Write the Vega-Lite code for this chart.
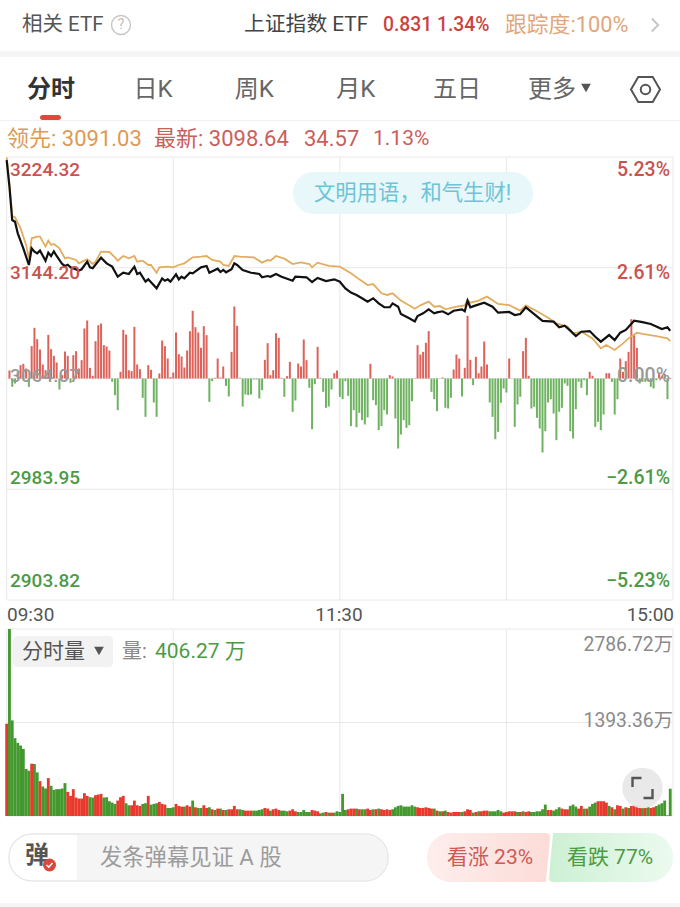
{
"$schema":"https://vega.github.io/schema/vega-lite/v6.json",
"width":680,"height":907,"padding":0,
"autosize":{"type":"fit","contains":"padding"},
"background":"#ffffff",
"config":{"view":{"stroke":null},"axis":{"disable":true},"font":"Roboto, Noto Sans CJK SC"},
"resolve":{"scale":{"x":"independent","y":"independent","color":"independent"}},
"layer":[
{"data":{"values":[{"n":"band"}]},"mark":{"type":"rect","color":"#f5f5f5"},"encoding":{"x":{"datum":0,"scale":{"domain":[0,680]}},"x2":{"datum":680},"y":{"datum":51,"scale":{"domain":[907,0]}},"y2":{"datum":57}}},
{"data":{"values":[{"n":"band"}]},"mark":{"type":"rect","color":"#f1f1f1"},"encoding":{"x":{"datum":0,"scale":{"domain":[0,680]}},"x2":{"datum":680},"y":{"datum":120,"scale":{"domain":[907,0]}},"y2":{"datum":121}}},
{"data":{"values":[{"n":"band"}]},"mark":{"type":"rect","color":"#f5f5f5"},"encoding":{"x":{"datum":0,"scale":{"domain":[0,680]}},"x2":{"datum":680},"y":{"datum":903,"scale":{"domain":[907,0]}},"y2":{"datum":907}}},
{"data":{"values":[{"s":"相关 ETF"}]},"mark":{"type":"text","fontSize":20.5,"align":"left","baseline":"middle","color":"#555555"},"encoding":{"x":{"datum":22,"scale":{"domain":[0,680]}},"y":{"datum":25,"scale":{"domain":[907,0]}},"text":{"field":"s"}}},
{"data":{"values":[{"n":"help"}]},"mark":{"type":"point","shape":"circle","filled":false,"color":"#c8c8c8","strokeWidth":1.5,"size":361,"opacity":1},"encoding":{"x":{"datum":121,"scale":{"domain":[0,680]}},"y":{"datum":25,"scale":{"domain":[907,0]}}}},
{"data":{"values":[{"s":"?"}]},"mark":{"type":"text","fontSize":14,"align":"center","baseline":"middle","color":"#c0c0c0"},"encoding":{"x":{"datum":121,"scale":{"domain":[0,680]}},"y":{"datum":25,"scale":{"domain":[907,0]}},"text":{"field":"s"}}},
{"data":{"values":[{"s":"上证指数 ETF"}]},"mark":{"type":"text","fontSize":20.8,"align":"left","baseline":"middle","color":"#444444"},"encoding":{"x":{"datum":244,"scale":{"domain":[0,680]}},"y":{"datum":25,"scale":{"domain":[907,0]}},"text":{"field":"s"}}},
{"data":{"values":[{"s":"0.831 1.34%"}]},"mark":{"type":"text","fontSize":19.3,"fontWeight":500,"align":"left","baseline":"middle","color":"#c9443f"},"encoding":{"x":{"datum":383,"scale":{"domain":[0,680]}},"y":{"datum":25,"scale":{"domain":[907,0]}},"text":{"field":"s"}}},
{"data":{"values":[{"s":"跟踪度:100%"}]},"mark":{"type":"text","fontSize":21.8,"align":"left","baseline":"middle","color":"#e2a67c"},"encoding":{"x":{"datum":505,"scale":{"domain":[0,680]}},"y":{"datum":25,"scale":{"domain":[907,0]}},"text":{"field":"s"}}},
{"data":{"values":[{"n":"more"}]},"mark":{"type":"point","shape":"M-0.5,-1L0.5,0L-0.5,1","filled":false,"color":"#c4c4c4","strokeWidth":1.8,"size":169,"opacity":1},"encoding":{"x":{"datum":655,"scale":{"domain":[0,680]}},"y":{"datum":25,"scale":{"domain":[907,0]}}}},
{"data":{"values":[{"s":"分时"}]},"mark":{"type":"text","fontSize":24,"fontWeight":"bold","align":"center","baseline":"middle","color":"#333333"},"encoding":{"x":{"datum":51,"scale":{"domain":[0,680]}},"y":{"datum":90,"scale":{"domain":[907,0]}},"text":{"field":"s"}}},
{"data":{"values":[{"s":"日K"},{"s":"周K"},{"s":"月K"},{"s":"五日"}]},"mark":{"type":"text","fontSize":24,"align":"center","baseline":"middle","color":"#666666"},"encoding":{"x":{"field":"s","type":"nominal","sort":null,"scale":{"domain":["日K","周K","月K","五日"],"range":[153,457],"padding":0}},"y":{"datum":90,"scale":{"domain":[907,0]}},"text":{"field":"s"}}},
{"data":{"values":[{"s":"更多"}]},"mark":{"type":"text","fontSize":24,"align":"center","baseline":"middle","color":"#666666"},"encoding":{"x":{"datum":552,"scale":{"domain":[0,680]}},"y":{"datum":90,"scale":{"domain":[907,0]}},"text":{"field":"s"}}},
{"data":{"values":[{"n":"more"}]},"mark":{"type":"point","shape":"triangle-down","filled":true,"color":"#555555","size":95,"opacity":1},"encoding":{"x":{"datum":586,"scale":{"domain":[0,680]}},"y":{"datum":88,"scale":{"domain":[907,0]}}}},
{"data":{"values":[{"n":"settings"}]},"mark":{"type":"point","shape":"M-1,0L-0.5,-0.866L0.5,-0.866L1,0L0.5,0.866L-0.5,0.866Z","filled":false,"color":"#555555","strokeWidth":2,"size":841,"opacity":1},"encoding":{"x":{"datum":645.5,"scale":{"domain":[0,680]}},"y":{"datum":89.5,"scale":{"domain":[907,0]}}}},
{"data":{"values":[{"n":"settings"}]},"mark":{"type":"point","shape":"circle","filled":false,"color":"#555555","strokeWidth":2,"size":90,"opacity":1},"encoding":{"x":{"datum":645.5,"scale":{"domain":[0,680]}},"y":{"datum":89.5,"scale":{"domain":[907,0]}}}},
{"data":{"values":[{"n":"tab"}]},"mark":{"type":"rect","color":"#e0483c","cornerRadius":2.5},"encoding":{"x":{"datum":40,"scale":{"domain":[0,680]}},"x2":{"datum":61},"y":{"datum":115,"scale":{"domain":[907,0]}},"y2":{"datum":120}}},
{"data":{"values":[{"s":"领先: 3091.03"}]},"mark":{"type":"text","fontSize":22,"align":"left","baseline":"middle","color":"#dc9a55"},"encoding":{"x":{"datum":7,"scale":{"domain":[0,680]}},"y":{"datum":139,"scale":{"domain":[907,0]}},"text":{"field":"s"}}},
{"data":{"values":[{"s":"最新: 3098.64"}]},"mark":{"type":"text","fontSize":22,"align":"left","baseline":"middle","color":"#c9605c"},"encoding":{"x":{"datum":154,"scale":{"domain":[0,680]}},"y":{"datum":139,"scale":{"domain":[907,0]}},"text":{"field":"s"}}},
{"data":{"values":[{"s":"34.57"}]},"mark":{"type":"text","fontSize":22,"align":"left","baseline":"middle","color":"#c9605c"},"encoding":{"x":{"datum":304,"scale":{"domain":[0,680]}},"y":{"datum":139,"scale":{"domain":[907,0]}},"text":{"field":"s"}}},
{"data":{"values":[{"s":"1.13%"}]},"mark":{"type":"text","fontSize":21,"align":"left","baseline":"middle","color":"#c9605c"},"encoding":{"x":{"datum":373,"scale":{"domain":[0,680]}},"y":{"datum":139,"scale":{"domain":[907,0]}},"text":{"field":"s"}}},
{"data":{"values":[{"t":0},{"t":60},{"t":120},{"t":180},{"t":240}]},"mark":{"type":"rule","color":"#e8e8e8","strokeWidth":1},"encoding":{"x":{"field":"t","type":"quantitative","scale":{"domain":[0,240],"range":[6.67,673]}},"y":{"datum":157,"scale":{"domain":[907,0]}},"y2":{"datum":600}}},
{"data":{"values":[{"p":3224.32},{"p":3144.2},{"p":3064.07},{"p":2983.95},{"p":2903.82}]},"mark":{"type":"rule","color":"#e8e8e8","strokeWidth":1},"encoding":{"y":{"field":"p","type":"quantitative","scale":{"domain":[2903.82,3224.32],"range":[600,157]}},"x":{"datum":7,"scale":{"domain":[0,680]}},"x2":{"datum":673}}},
{"data":{"values":[{"t":0},{"t":60},{"t":120},{"t":180},{"t":240}]},"mark":{"type":"rule","color":"#e8e8e8","strokeWidth":1},"encoding":{"x":{"field":"t","type":"quantitative","scale":{"domain":[0,240],"range":[6.67,673]}},"y":{"datum":629,"scale":{"domain":[907,0]}},"y2":{"datum":816}}},
{"data":{"values":[{"v":2786.72},{"v":1393.36},{"v":0}]},"mark":{"type":"rule","color":"#e8e8e8","strokeWidth":1},"encoding":{"y":{"field":"v","type":"quantitative","scale":{"domain":[0,2786.72],"range":[816,629]}},"x":{"datum":7,"scale":{"domain":[0,680]}},"x2":{"datum":673}}},
{"data":{"values":[{"n":"pill"}]},"mark":{"type":"rect","color":"#e5f6f9","cornerRadius":21,"opacity":0.9},"encoding":{"x":{"datum":293,"scale":{"domain":[0,680]}},"x2":{"datum":533},"y":{"datum":172,"scale":{"domain":[907,0]}},"y2":{"datum":214}}},
{"data":{"values":[{"s":"文明用语，和气生财!"}]},"mark":{"type":"text","fontSize":21.3,"align":"left","baseline":"middle","color":"#6cc5d6"},"encoding":{"x":{"datum":314,"scale":{"domain":[0,680]}},"y":{"datum":194,"scale":{"domain":[907,0]}},"text":{"field":"s"}}},
{"data":{"values":[
{"t":1,"flow":24},{"t":2,"flow":-25},{"t":3,"flow":-15},{"t":4,"flow":20},{"t":5,"flow":40},{"t":6,"flow":44},{"t":7,"flow":30},{"t":8,"flow":-25},{"t":9,"flow":97},{"t":10,"flow":152},
{"t":11,"flow":118},{"t":12,"flow":87},{"t":13,"flow":42},{"t":14,"flow":25},{"t":15,"flow":131},{"t":16,"flow":88},{"t":17,"flow":68},{"t":18,"flow":48},{"t":19,"flow":-33},{"t":20,"flow":10},
{"t":21,"flow":81},{"t":22,"flow":68},{"t":23,"flow":-13},{"t":24,"flow":70},{"t":25,"flow":82},{"t":26,"flow":30},{"t":27,"flow":55},{"t":28,"flow":150},{"t":29,"flow":174},{"t":30,"flow":32},
{"t":31,"flow":8},{"t":32,"flow":112},{"t":33,"flow":160},{"t":34,"flow":165},{"t":35,"flow":100},{"t":36,"flow":96},{"t":37,"flow":84},{"t":38,"flow":-10},{"t":39,"flow":-50},{"t":40,"flow":-95},
{"t":41,"flow":20},{"t":42,"flow":146},{"t":43,"flow":132},{"t":44,"flow":25},{"t":45,"flow":22},{"t":46,"flow":155},{"t":47,"flow":42},{"t":48,"flow":28},{"t":49,"flow":-58},{"t":50,"flow":-115},
{"t":51,"flow":40},{"t":52,"flow":26},{"t":53,"flow":-72},{"t":54,"flow":-115},{"t":55,"flow":15},{"t":56,"flow":114},{"t":57,"flow":97},{"t":58,"flow":60},{"t":59,"flow":4},{"t":60,"flow":18},
{"t":61,"flow":138},{"t":62,"flow":73},{"t":63,"flow":66},{"t":64,"flow":33},{"t":65,"flow":84},{"t":66,"flow":142},{"t":67,"flow":203},{"t":68,"flow":154},{"t":69,"flow":138},{"t":70,"flow":92},
{"t":71,"flow":157},{"t":72,"flow":130},{"t":73,"flow":-70},{"t":74,"flow":-8},{"t":75,"flow":2},{"t":76,"flow":60},{"t":77,"flow":3},{"t":78,"flow":36},{"t":79,"flow":-22},{"t":80,"flow":-54},
{"t":81,"flow":80},{"t":82,"flow":216},{"t":83,"flow":158},{"t":84,"flow":2},{"t":85,"flow":-84},{"t":86,"flow":-48},{"t":87,"flow":-50},{"t":88,"flow":-48},{"t":89,"flow":-3},{"t":90,"flow":-3},
{"t":91,"flow":-60},{"t":92,"flow":-35},{"t":93,"flow":56},{"t":94,"flow":106},{"t":95,"flow":10},{"t":96,"flow":25},{"t":97,"flow":136},{"t":98,"flow":122},{"t":99,"flow":2},{"t":100,"flow":-55},
{"t":101,"flow":7},{"t":102,"flow":50},{"t":103,"flow":-100},{"t":104,"flow":-66},{"t":105,"flow":45},{"t":106,"flow":36},{"t":107,"flow":117},{"t":108,"flow":55},{"t":109,"flow":-28},{"t":110,"flow":-152},
{"t":111,"flow":-17},{"t":112,"flow":95},{"t":113,"flow":2},{"t":114,"flow":-40},{"t":115,"flow":-88},{"t":116,"flow":-84},{"t":117,"flow":-33},{"t":118,"flow":16},{"t":119,"flow":24},
{"t":120,"flow":-55},{"t":121,"flow":-62},{"t":122,"flow":-8},{"t":123,"flow":-52},{"t":124,"flow":-143},{"t":125,"flow":-95},{"t":126,"flow":-146},{"t":127,"flow":-103},{"t":128,"flow":-125},{"t":129,"flow":-138},
{"t":130,"flow":-117},{"t":131,"flow":44},{"t":132,"flow":-65},{"t":133,"flow":-80},{"t":134,"flow":-155},{"t":135,"flow":-143},{"t":136,"flow":-95},{"t":137,"flow":-108},{"t":138,"flow":10},{"t":139,"flow":6},
{"t":140,"flow":-120},{"t":141,"flow":-210},{"t":142,"flow":-168},{"t":143,"flow":-125},{"t":144,"flow":-148},{"t":145,"flow":-140},{"t":146,"flow":-68},{"t":147,"flow":1},{"t":148,"flow":100},{"t":149,"flow":72},
{"t":150,"flow":80},{"t":151,"flow":107},{"t":152,"flow":142},{"t":153,"flow":-40},{"t":154,"flow":-62},{"t":155,"flow":-98},{"t":156,"flow":-1},{"t":157,"flow":3},{"t":158,"flow":-88},{"t":159,"flow":-90},
{"t":160,"flow":-58},{"t":161,"flow":27},{"t":162,"flow":72},{"t":163,"flow":60},{"t":164,"flow":-54},{"t":165,"flow":32},{"t":166,"flow":188},{"t":167,"flow":56},{"t":168,"flow":-20},{"t":169,"flow":65},
{"t":170,"flow":16},{"t":171,"flow":36},{"t":172,"flow":111},{"t":173,"flow":42},{"t":174,"flow":-72},{"t":175,"flow":-115},{"t":176,"flow":-182},{"t":177,"flow":-160},{"t":178,"flow":-73},{"t":179,"flow":-30},
{"t":180,"flow":-42},{"t":181,"flow":60},{"t":182,"flow":-1},{"t":183,"flow":-145},{"t":184,"flow":-78},{"t":185,"flow":-55},{"t":186,"flow":82},{"t":187,"flow":122},{"t":188,"flow":8},{"t":189,"flow":-90},
{"t":190,"flow":-85},{"t":191,"flow":-118},{"t":192,"flow":-150},{"t":193,"flow":-222},{"t":194,"flow":-158},{"t":195,"flow":-72},{"t":196,"flow":-62},{"t":197,"flow":-105},{"t":198,"flow":-185},{"t":199,"flow":-100},
{"t":200,"flow":-88},{"t":201,"flow":-15},{"t":202,"flow":-22},{"t":203,"flow":-158},{"t":204,"flow":-180},{"t":205,"flow":-92},{"t":206,"flow":-10},{"t":207,"flow":-28},{"t":208,"flow":-5},{"t":209,"flow":-50},
{"t":210,"flow":20},{"t":211,"flow":8},{"t":212,"flow":-145},{"t":213,"flow":-130},{"t":214,"flow":-155},{"t":215,"flow":-108},{"t":216,"flow":16},{"t":217,"flow":16},{"t":218,"flow":-10},{"t":219,"flow":-108},
{"t":220,"flow":-62},{"t":221,"flow":60},{"t":222,"flow":20},{"t":223,"flow":52},{"t":224,"flow":80},{"t":225,"flow":178},{"t":226,"flow":130},{"t":227,"flow":92},{"t":228,"flow":-15},{"t":229,"flow":-10},
{"t":230,"flow":-10},{"t":231,"flow":-8},{"t":232,"flow":-25},{"t":233,"flow":-30},{"t":234,"flow":-5},{"t":235,"flow":18},{"t":236,"flow":8},{"t":237,"flow":14},{"t":238,"flow":-62},{"t":239,"flow":2}
]},"mark":{"type":"bar","size":2,"orient":"vertical"},"encoding":{"x":{"field":"t","type":"quantitative","scale":{"domain":[0,240],"range":[6.67,673],"padding":0}},"y":{"field":"flow","type":"quantitative","scale":{"domain":[-664.5,664.5],"range":[600,157]}},"y2":{"datum":0},"color":{"condition":{"test":"datum.flow>=0","value":"#dc625a"},"value":"#6fb262"}}},
{"data":{"values":[
{"t":0,"price":3224.1},{"t":1,"price":3205.3},{"t":2,"price":3181.6},{"t":3,"price":3180.7},{"t":5,"price":3172.7},{"t":7,"price":3160.7},{"t":8,"price":3151},{"t":9,"price":3165.5},{"t":11,"price":3166.7},{"t":12,"price":3166.7},{"t":13,"price":3163.1},{"t":14,"price":3159.5},{"t":15,"price":3163.8},{"t":16,"price":3160.7},{"t":17,"price":3161.4},{"t":19,"price":3158.2},{"t":21,"price":3151},{"t":22,"price":3151.7},{"t":25,"price":3149.8},{"t":26,"price":3147.4},{"t":29,"price":3150.3},{"t":31,"price":3146.9},{"t":32,"price":3148.6},{"t":34,"price":3155.8},{"t":37,"price":3155.6},{"t":39,"price":3151.7},{"t":40,"price":3149.3},{"t":42,"price":3152.7},{"t":44,"price":3151},{"t":46,"price":3152.7},{"t":47,"price":3148.6},{"t":49,"price":3149.3},{"t":51,"price":3146.2},{"t":52,"price":3146.2},{"t":54,"price":3140.6},{"t":55,"price":3144.5},{"t":58,"price":3145},{"t":60,"price":3144.5},{"t":62,"price":3146.2},{"t":64,"price":3147.4},{"t":67,"price":3151.7},{"t":70,"price":3152.2},{"t":72,"price":3152.7},{"t":74,"price":3149.8},{"t":77,"price":3148.6},{"t":78,"price":3146.2},{"t":80,"price":3145.5},{"t":82,"price":3152.7},{"t":84,"price":3152.2},{"t":89,"price":3151.7},{"t":92,"price":3147.9},{"t":94,"price":3149.8},{"t":95,"price":3149.3},{"t":97,"price":3152.7},{"t":100,"price":3150.8},{"t":103,"price":3146.9},{"t":106,"price":3148.1},{"t":109,"price":3146.9},{"t":110,"price":3144.5},{"t":112,"price":3147.9},{"t":116,"price":3145.5},{"t":120,"price":3145},
{"t":124,"price":3140.2},{"t":127,"price":3135.8},{"t":130,"price":3131.7},{"t":132,"price":3132.4},{"t":135,"price":3125.7},{"t":137,"price":3124.5},{"t":139,"price":3125.7},{"t":142,"price":3120.4},{"t":147,"price":3114.6},{"t":149,"price":3117},{"t":152,"price":3119.7},{"t":154,"price":3116},{"t":156,"price":3116.5},{"t":158,"price":3114.1},{"t":162,"price":3116},{"t":165,"price":3117},{"t":166,"price":3120.9},{"t":167,"price":3118.9},{"t":170,"price":3120.4},{"t":173,"price":3123.3},{"t":177,"price":3118},{"t":181,"price":3117.2},{"t":184,"price":3114.1},{"t":185,"price":3113.1},{"t":187,"price":3117},{"t":191,"price":3112.7},{"t":195,"price":3108.1},{"t":198,"price":3104},{"t":202,"price":3101.6},{"t":204,"price":3096.7},{"t":207,"price":3097.9},{"t":211,"price":3093.1},{"t":214,"price":3085.9},{"t":216,"price":3088.3},{"t":219,"price":3084.7},{"t":222,"price":3089.5},{"t":224,"price":3093.1},{"t":227,"price":3097.2},{"t":229,"price":3096.3},{"t":234,"price":3094.8},{"t":238,"price":3093.1},{"t":239,"price":3091.03}
]},"mark":{"type":"line","color":"#e3ad5f","strokeWidth":1.8},"encoding":{"x":{"field":"t","type":"quantitative","scale":{"domain":[0,240],"range":[6.67,673]}},"y":{"field":"price","type":"quantitative","scale":{"domain":[2903.82,3224.32],"range":[600,157]}}}},
{"data":{"values":[
{"t":0,"price":3222.1},{"t":1,"price":3202.8},{"t":2,"price":3178.7},{"t":3,"price":3177.5},{"t":4,"price":3169.1},{"t":6,"price":3158.2},{"t":8,"price":3146.2},{"t":9,"price":3158.2},{"t":10,"price":3155.8},{"t":11,"price":3154.6},{"t":12,"price":3156.6},{"t":14,"price":3149.3},{"t":15,"price":3155.1},{"t":16,"price":3152.7},{"t":17,"price":3156.1},{"t":18,"price":3152.7},{"t":20,"price":3146.9},{"t":21,"price":3145.5},{"t":22,"price":3146.4},{"t":23,"price":3144.5},{"t":26,"price":3142.1},{"t":27,"price":3143.1},{"t":29,"price":3148.6},{"t":30,"price":3144.5},{"t":31,"price":3143.8},{"t":34,"price":3151.5},{"t":36,"price":3147.4},{"t":38,"price":3145},{"t":40,"price":3137.7},{"t":42,"price":3140.6},{"t":44,"price":3139.7},{"t":46,"price":3145},{"t":47,"price":3139.7},{"t":48,"price":3140.6},{"t":50,"price":3134.1},{"t":51,"price":3135.8},{"t":54,"price":3129.3},{"t":56,"price":3136.5},{"t":57,"price":3134.8},{"t":58,"price":3135.8},{"t":59,"price":3134.1},{"t":61,"price":3139.4},{"t":62,"price":3135.8},{"t":63,"price":3137.7},{"t":64,"price":3136.5},{"t":66,"price":3140.6},{"t":67,"price":3140.2},{"t":70,"price":3144.5},{"t":72,"price":3145.5},{"t":73,"price":3140.6},{"t":76,"price":3143.5},{"t":77,"price":3141.1},{"t":78,"price":3142.6},{"t":79,"price":3140.9},{"t":81,"price":3143.1},{"t":82,"price":3147.4},{"t":83,"price":3146.2},{"t":85,"price":3142.6},{"t":88,"price":3140.6},{"t":91,"price":3139.7},{"t":92,"price":3137.3},{"t":94,"price":3138.2},{"t":95,"price":3137.7},{"t":97,"price":3139.7},{"t":99,"price":3137.7},{"t":103,"price":3134.8},{"t":104,"price":3137.7},{"t":108,"price":3137.3},{"t":110,"price":3133.9},{"t":112,"price":3136.8},{"t":115,"price":3134.6},{"t":118,"price":3135.8},{"t":120,"price":3134.1},
{"t":122,"price":3129.3},{"t":124,"price":3126.2},{"t":126,"price":3124.5},{"t":128,"price":3122.1},{"t":130,"price":3119.7},{"t":132,"price":3122.1},{"t":134,"price":3118.4},{"t":136,"price":3115.6},{"t":138,"price":3115.6},{"t":139,"price":3118.4},{"t":141,"price":3116},{"t":142,"price":3110.7},{"t":145,"price":3107.6},{"t":147,"price":3105.4},{"t":148,"price":3109.3},{"t":150,"price":3111.2},{"t":152,"price":3114.1},{"t":154,"price":3111.2},{"t":155,"price":3111.9},{"t":157,"price":3112.7},{"t":159,"price":3110.5},{"t":161,"price":3113.1},{"t":164,"price":3114.1},{"t":165,"price":3112.7},{"t":166,"price":3120.4},{"t":167,"price":3115.6},{"t":169,"price":3117},{"t":172,"price":3118.9},{"t":175,"price":3116},{"t":177,"price":3111.7},{"t":181,"price":3112.2},{"t":183,"price":3110},{"t":185,"price":3110.7},{"t":187,"price":3115.6},{"t":190,"price":3110.7},{"t":193,"price":3105.7},{"t":197,"price":3105.2},{"t":199,"price":3101.1},{"t":201,"price":3102.3},{"t":203,"price":3098.7},{"t":205,"price":3094.8},{"t":207,"price":3097.9},{"t":210,"price":3098.4},{"t":212,"price":3094.3},{"t":214,"price":3090.7},{"t":217,"price":3095.5},{"t":219,"price":3091.9},{"t":221,"price":3097.2},{"t":223,"price":3099.2},{"t":226,"price":3105.9},{"t":229,"price":3104.9},{"t":232,"price":3103.5},{"t":236,"price":3099.9},{"t":238,"price":3101.1},{"t":239,"price":3098.64}
]},"mark":{"type":"line","color":"#111111","strokeWidth":2.2},"encoding":{"x":{"field":"t","type":"quantitative","scale":{"domain":[0,240],"range":[6.67,673]}},"y":{"field":"price","type":"quantitative","scale":{"domain":[2903.82,3224.32],"range":[600,157]}}}},
{"data":{"values":[{"s":"3224.32","k":"up"},{"s":"3144.20","k":"up"},{"s":"3064.07","k":"flat"},{"s":"2983.95","k":"down"},{"s":"2903.82","k":"down"}]},"mark":{"type":"text","fontSize":19,"fontWeight":500,"align":"left","baseline":"middle"},"encoding":{"x":{"datum":10,"scale":{"domain":[0,680]}},"y":{"field":"s","type":"nominal","sort":null,"scale":{"domain":["3224.32","3144.20","3064.07","2983.95","2903.82"],"range":[170,581],"padding":0}},"text":{"field":"s"},"color":{"field":"k","type":"nominal","legend":null,"scale":{"domain":["up","flat","down"],"range":["#c8534f","#9a9a9a","#4d9a45"]}}}},
{"data":{"values":[{"s":"5.23%","k":"up"},{"s":"2.61%","k":"up"},{"s":"0.00%","k":"flat"},{"s":"−2.61%","k":"down"},{"s":"−5.23%","k":"down"}]},"mark":{"type":"text","fontSize":19.5,"fontWeight":500,"align":"right","baseline":"middle"},"encoding":{"x":{"datum":670,"scale":{"domain":[0,680]}},"y":{"field":"s","type":"nominal","sort":null,"scale":{"domain":["5.23%","2.61%","0.00%","−2.61%","−5.23%"],"range":[170,581],"padding":0}},"text":{"field":"s"},"color":{"field":"k","type":"nominal","legend":null,"scale":{"domain":["up","flat","down"],"range":["#c8534f","#9a9a9a","#4d9a45"]}}}},
{"data":{"values":[{"s":"09:30"}]},"mark":{"type":"text","fontSize":19,"align":"left","baseline":"middle","color":"#555555"},"encoding":{"x":{"datum":7,"scale":{"domain":[0,680]}},"y":{"datum":615,"scale":{"domain":[907,0]}},"text":{"field":"s"}}},
{"data":{"values":[{"s":"11:30"}]},"mark":{"type":"text","fontSize":19,"align":"center","baseline":"middle","color":"#555555"},"encoding":{"x":{"datum":339,"scale":{"domain":[0,680]}},"y":{"datum":615,"scale":{"domain":[907,0]}},"text":{"field":"s"}}},
{"data":{"values":[{"s":"15:00"}]},"mark":{"type":"text","fontSize":19,"align":"right","baseline":"middle","color":"#555555"},"encoding":{"x":{"datum":674,"scale":{"domain":[0,680]}},"y":{"datum":615,"scale":{"domain":[907,0]}},"text":{"field":"s"}}},
{"data":{"values":[
{"t":0,"vol":1375,"dir":"up"},{"t":1,"vol":2786.72,"dir":"down"},{"t":2,"vol":1425,"dir":"down"},{"t":3,"vol":1160,"dir":"down"},{"t":4,"vol":1090,"dir":"down"},{"t":5,"vol":1050,"dir":"down"},{"t":6,"vol":1000,"dir":"down"},{"t":7,"vol":700,"dir":"down"},{"t":8,"vol":675,"dir":"down"},{"t":9,"vol":780,"dir":"up"},
{"t":10,"vol":775,"dir":"down"},{"t":11,"vol":650,"dir":"down"},{"t":12,"vol":520,"dir":"up"},{"t":13,"vol":440,"dir":"down"},{"t":14,"vol":410,"dir":"down"},{"t":15,"vol":565,"dir":"up"},{"t":16,"vol":450,"dir":"down"},{"t":17,"vol":390,"dir":"down"},{"t":18,"vol":400,"dir":"down"},{"t":19,"vol":400,"dir":"down"},
{"t":20,"vol":410,"dir":"down"},{"t":21,"vol":490,"dir":"down"},{"t":22,"vol":360,"dir":"up"},{"t":23,"vol":300,"dir":"up"},{"t":24,"vol":400,"dir":"up"},{"t":25,"vol":275,"dir":"up"},{"t":26,"vol":260,"dir":"up"},{"t":27,"vol":260,"dir":"up"},{"t":28,"vol":340,"dir":"up"},{"t":29,"vol":300,"dir":"up"},
{"t":30,"vol":280,"dir":"down"},{"t":31,"vol":275,"dir":"down"},{"t":32,"vol":310,"dir":"up"},{"t":33,"vol":320,"dir":"up"},{"t":34,"vol":330,"dir":"up"},{"t":35,"vol":275,"dir":"down"},{"t":36,"vol":280,"dir":"down"},{"t":37,"vol":220,"dir":"down"},{"t":38,"vol":200,"dir":"down"},{"t":39,"vol":180,"dir":"down"},
{"t":40,"vol":230,"dir":"up"},{"t":41,"vol":280,"dir":"up"},{"t":42,"vol":300,"dir":"up"},{"t":43,"vol":190,"dir":"down"},{"t":44,"vol":160,"dir":"down"},{"t":45,"vol":160,"dir":"up"},{"t":46,"vol":230,"dir":"up"},{"t":47,"vol":160,"dir":"up"},{"t":48,"vol":150,"dir":"up"},{"t":49,"vol":180,"dir":"down"},
{"t":50,"vol":190,"dir":"down"},{"t":51,"vol":300,"dir":"up"},{"t":52,"vol":170,"dir":"down"},{"t":53,"vol":180,"dir":"down"},{"t":54,"vol":190,"dir":"down"},{"t":55,"vol":210,"dir":"up"},{"t":56,"vol":180,"dir":"up"},{"t":57,"vol":170,"dir":"up"},{"t":58,"vol":120,"dir":"down"},{"t":59,"vol":120,"dir":"down"},
{"t":60,"vol":130,"dir":"down"},{"t":61,"vol":180,"dir":"up"},{"t":62,"vol":150,"dir":"up"},{"t":63,"vol":140,"dir":"up"},{"t":64,"vol":140,"dir":"down"},{"t":65,"vol":160,"dir":"up"},{"t":66,"vol":140,"dir":"up"},{"t":67,"vol":230,"dir":"down"},{"t":68,"vol":130,"dir":"up"},{"t":69,"vol":120,"dir":"down"},
{"t":70,"vol":120,"dir":"down"},{"t":71,"vol":160,"dir":"up"},{"t":72,"vol":120,"dir":"up"},{"t":73,"vol":130,"dir":"down"},{"t":74,"vol":100,"dir":"up"},{"t":75,"vol":90,"dir":"down"},{"t":76,"vol":110,"dir":"up"},{"t":77,"vol":110,"dir":"down"},{"t":78,"vol":90,"dir":"up"},{"t":79,"vol":90,"dir":"down"},
{"t":80,"vol":100,"dir":"up"},{"t":81,"vol":100,"dir":"up"},{"t":82,"vol":150,"dir":"up"},{"t":83,"vol":100,"dir":"up"},{"t":84,"vol":100,"dir":"down"},{"t":85,"vol":90,"dir":"down"},{"t":86,"vol":80,"dir":"up"},{"t":87,"vol":80,"dir":"up"},{"t":88,"vol":80,"dir":"up"},{"t":89,"vol":80,"dir":"down"},
{"t":90,"vol":80,"dir":"down"},{"t":91,"vol":90,"dir":"down"},{"t":92,"vol":100,"dir":"down"},{"t":93,"vol":120,"dir":"up"},{"t":94,"vol":110,"dir":"up"},{"t":95,"vol":80,"dir":"down"},{"t":96,"vol":100,"dir":"up"},{"t":97,"vol":110,"dir":"up"},{"t":98,"vol":90,"dir":"up"},{"t":99,"vol":80,"dir":"down"},
{"t":100,"vol":80,"dir":"down"},{"t":101,"vol":70,"dir":"down"},{"t":102,"vol":80,"dir":"up"},{"t":103,"vol":100,"dir":"up"},{"t":104,"vol":70,"dir":"up"},{"t":105,"vol":60,"dir":"down"},{"t":106,"vol":60,"dir":"down"},{"t":107,"vol":90,"dir":"down"},{"t":108,"vol":60,"dir":"down"},{"t":109,"vol":60,"dir":"down"},
{"t":110,"vol":90,"dir":"up"},{"t":111,"vol":80,"dir":"up"},{"t":112,"vol":70,"dir":"up"},{"t":113,"vol":40,"dir":"down"},{"t":114,"vol":50,"dir":"down"},{"t":115,"vol":60,"dir":"up"},{"t":116,"vol":50,"dir":"down"},{"t":117,"vol":50,"dir":"up"},{"t":118,"vol":50,"dir":"down"},{"t":119,"vol":70,"dir":"down"},
{"t":120,"vol":60,"dir":"down"},{"t":121,"vol":330,"dir":"down"},{"t":122,"vol":90,"dir":"down"},{"t":123,"vol":100,"dir":"up"},{"t":124,"vol":110,"dir":"up"},{"t":125,"vol":110,"dir":"up"},{"t":126,"vol":110,"dir":"down"},{"t":127,"vol":100,"dir":"up"},{"t":128,"vol":100,"dir":"down"},{"t":129,"vol":100,"dir":"down"},
{"t":130,"vol":110,"dir":"up"},{"t":131,"vol":90,"dir":"up"},{"t":132,"vol":100,"dir":"down"},{"t":133,"vol":100,"dir":"up"},{"t":134,"vol":110,"dir":"down"},{"t":135,"vol":100,"dir":"up"},{"t":136,"vol":90,"dir":"up"},{"t":137,"vol":100,"dir":"up"},{"t":138,"vol":90,"dir":"up"},{"t":139,"vol":100,"dir":"down"},
{"t":140,"vol":130,"dir":"down"},{"t":141,"vol":150,"dir":"down"},{"t":142,"vol":160,"dir":"down"},{"t":143,"vol":140,"dir":"down"},{"t":144,"vol":140,"dir":"down"},{"t":145,"vol":140,"dir":"down"},{"t":146,"vol":160,"dir":"down"},{"t":147,"vol":140,"dir":"down"},{"t":148,"vol":130,"dir":"up"},{"t":149,"vol":120,"dir":"up"},
{"t":150,"vol":120,"dir":"up"},{"t":151,"vol":130,"dir":"up"},{"t":152,"vol":120,"dir":"up"},{"t":153,"vol":110,"dir":"up"},{"t":154,"vol":110,"dir":"down"},{"t":155,"vol":80,"dir":"up"},{"t":156,"vol":70,"dir":"down"},{"t":157,"vol":70,"dir":"up"},{"t":158,"vol":80,"dir":"down"},{"t":159,"vol":60,"dir":"up"},
{"t":160,"vol":50,"dir":"up"},{"t":161,"vol":60,"dir":"up"},{"t":162,"vol":60,"dir":"up"},{"t":163,"vol":60,"dir":"up"},{"t":164,"vol":60,"dir":"down"},{"t":165,"vol":70,"dir":"up"},{"t":166,"vol":100,"dir":"up"},{"t":167,"vol":90,"dir":"up"},{"t":168,"vol":50,"dir":"down"},{"t":169,"vol":60,"dir":"up"},
{"t":170,"vol":70,"dir":"down"},{"t":171,"vol":70,"dir":"up"},{"t":172,"vol":80,"dir":"up"},{"t":173,"vol":80,"dir":"up"},{"t":174,"vol":70,"dir":"down"},{"t":175,"vol":70,"dir":"down"},{"t":176,"vol":70,"dir":"down"},{"t":177,"vol":90,"dir":"down"},{"t":178,"vol":70,"dir":"down"},{"t":179,"vol":50,"dir":"up"},
{"t":180,"vol":60,"dir":"up"},{"t":181,"vol":70,"dir":"up"},{"t":182,"vol":70,"dir":"up"},{"t":183,"vol":70,"dir":"up"},{"t":184,"vol":60,"dir":"down"},{"t":185,"vol":60,"dir":"up"},{"t":186,"vol":70,"dir":"down"},{"t":187,"vol":60,"dir":"up"},{"t":188,"vol":70,"dir":"up"},{"t":189,"vol":60,"dir":"down"},
{"t":190,"vol":60,"dir":"down"},{"t":191,"vol":70,"dir":"down"},{"t":192,"vol":70,"dir":"down"},{"t":193,"vol":100,"dir":"down"},{"t":194,"vol":170,"dir":"down"},{"t":195,"vol":90,"dir":"up"},{"t":196,"vol":90,"dir":"up"},{"t":197,"vol":80,"dir":"down"},{"t":198,"vol":100,"dir":"down"},{"t":199,"vol":130,"dir":"down"},
{"t":200,"vol":110,"dir":"up"},{"t":201,"vol":100,"dir":"up"},{"t":202,"vol":100,"dir":"up"},{"t":203,"vol":150,"dir":"down"},{"t":204,"vol":170,"dir":"down"},{"t":205,"vol":140,"dir":"down"},{"t":206,"vol":110,"dir":"up"},{"t":207,"vol":150,"dir":"up"},{"t":208,"vol":110,"dir":"down"},{"t":209,"vol":110,"dir":"up"},
{"t":210,"vol":140,"dir":"down"},{"t":211,"vol":180,"dir":"down"},{"t":212,"vol":200,"dir":"down"},{"t":213,"vol":220,"dir":"up"},{"t":214,"vol":220,"dir":"up"},{"t":215,"vol":220,"dir":"up"},{"t":216,"vol":200,"dir":"up"},{"t":217,"vol":150,"dir":"down"},{"t":218,"vol":130,"dir":"up"},{"t":219,"vol":100,"dir":"down"},
{"t":220,"vol":160,"dir":"up"},{"t":221,"vol":150,"dir":"up"},{"t":222,"vol":110,"dir":"down"},{"t":223,"vol":130,"dir":"up"},{"t":224,"vol":120,"dir":"down"},{"t":225,"vol":150,"dir":"up"},{"t":226,"vol":160,"dir":"up"},{"t":227,"vol":150,"dir":"up"},{"t":228,"vol":120,"dir":"up"},{"t":229,"vol":120,"dir":"down"},
{"t":230,"vol":120,"dir":"up"},{"t":231,"vol":140,"dir":"down"},{"t":232,"vol":120,"dir":"up"},{"t":233,"vol":130,"dir":"up"},{"t":234,"vol":150,"dir":"down"},{"t":235,"vol":170,"dir":"down"},{"t":236,"vol":190,"dir":"down"},{"t":237,"vol":230,"dir":"down"},{"t":238,"vol":10,"dir":"down"},{"t":239,"vol":406.27,"dir":"down"}
]},"mark":{"type":"bar","size":2.85,"orient":"vertical"},"encoding":{"x":{"field":"t","type":"quantitative","scale":{"domain":[0,240],"range":[6.67,673],"padding":0}},"y":{"field":"vol","type":"quantitative","scale":{"domain":[0,2786.72],"range":[816,629]}},"y2":{"datum":0},"color":{"field":"dir","type":"nominal","legend":null,"scale":{"domain":["up","down"],"range":["#e8392c","#43982e"]}}}},
{"data":{"values":[{"n":"box"}]},"mark":{"type":"rect","color":"#f2f2f2","cornerRadius":4},"encoding":{"x":{"datum":13,"scale":{"domain":[0,680]}},"x2":{"datum":113},"y":{"datum":636,"scale":{"domain":[907,0]}},"y2":{"datum":667}}},
{"data":{"values":[{"s":"分时量"}]},"mark":{"type":"text","fontSize":21,"align":"left","baseline":"middle","color":"#555555"},"encoding":{"x":{"datum":22,"scale":{"domain":[0,680]}},"y":{"datum":652,"scale":{"domain":[907,0]}},"text":{"field":"s"}}},
{"data":{"values":[{"n":"volume menu"}]},"mark":{"type":"point","shape":"triangle-down","filled":true,"color":"#555555","size":95,"opacity":1},"encoding":{"x":{"datum":99,"scale":{"domain":[0,680]}},"y":{"datum":651,"scale":{"domain":[907,0]}}}},
{"data":{"values":[{"s":"量:"}]},"mark":{"type":"text","fontSize":20,"align":"left","baseline":"middle","color":"#888888"},"encoding":{"x":{"datum":122,"scale":{"domain":[0,680]}},"y":{"datum":652,"scale":{"domain":[907,0]}},"text":{"field":"s"}}},
{"data":{"values":[{"s":"406.27 万"}]},"mark":{"type":"text","fontSize":21,"align":"left","baseline":"middle","color":"#4d9a45"},"encoding":{"x":{"datum":155,"scale":{"domain":[0,680]}},"y":{"datum":652,"scale":{"domain":[907,0]}},"text":{"field":"s"}}},
{"data":{"values":[{"s":"2786.72万"}]},"mark":{"type":"text","fontSize":19.3,"align":"right","baseline":"middle","color":"#8a8a8a"},"encoding":{"x":{"datum":673,"scale":{"domain":[0,680]}},"y":{"datum":645,"scale":{"domain":[907,0]}},"text":{"field":"s"}}},
{"data":{"values":[{"s":"1393.36万"}]},"mark":{"type":"text","fontSize":19.3,"align":"right","baseline":"middle","color":"#8a8a8a"},"encoding":{"x":{"datum":673,"scale":{"domain":[0,680]}},"y":{"datum":721,"scale":{"domain":[907,0]}},"text":{"field":"s"}}},
{"data":{"values":[{"n":"expand"}]},"mark":{"type":"point","shape":"circle","filled":true,"color":"#e6e6e6","size":1640,"opacity":0.88},"encoding":{"x":{"datum":642.5,"scale":{"domain":[0,680]}},"y":{"datum":788,"scale":{"domain":[907,0]}}}},
{"data":{"values":[{"n":"expand"}]},"mark":{"type":"point","shape":"M-1,-0.1L-1,-1L-0.1,-1M1,0.1L1,1L0.1,1","filled":false,"color":"#555555","strokeWidth":2.4,"size":400,"opacity":1},"encoding":{"x":{"datum":642.5,"scale":{"domain":[0,680]}},"y":{"datum":788,"scale":{"domain":[907,0]}}}},
{"data":{"values":[{"n":"input"}]},"mark":{"type":"rect","color":"#ffffff","stroke":"#e8e8e8","strokeWidth":1.5,"cornerRadius":23},"encoding":{"x":{"datum":9,"scale":{"domain":[0,680]}},"x2":{"datum":388},"y":{"datum":834,"scale":{"domain":[907,0]}},"y2":{"datum":881}}},
{"data":{"values":[{"n":"input"}]},"mark":{"type":"rect","color":"#f5f5f5","cornerRadiusTopRight":22,"cornerRadiusBottomRight":22},"encoding":{"x":{"datum":77,"scale":{"domain":[0,680]}},"x2":{"datum":387},"y":{"datum":835,"scale":{"domain":[907,0]}},"y2":{"datum":880}}},
{"data":{"values":[{"s":"弹"}]},"mark":{"type":"text","fontSize":24,"fontWeight":"bold","align":"center","baseline":"middle","color":"#555555"},"encoding":{"x":{"datum":37,"scale":{"domain":[0,680]}},"y":{"datum":856,"scale":{"domain":[907,0]}},"text":{"field":"s"}}},
{"data":{"values":[{"n":"badge"}]},"mark":{"type":"point","shape":"circle","filled":true,"color":"#d9483c","size":169,"opacity":1},"encoding":{"x":{"datum":49.5,"scale":{"domain":[0,680]}},"y":{"datum":865,"scale":{"domain":[907,0]}}}},
{"data":{"values":[{"n":"badge"}]},"mark":{"type":"point","shape":"M-1,0L-0.25,0.7L1,-0.7","filled":false,"color":"#ffffff","strokeWidth":1.5,"size":36,"opacity":1},"encoding":{"x":{"datum":49.5,"scale":{"domain":[0,680]}},"y":{"datum":865,"scale":{"domain":[907,0]}}}},
{"data":{"values":[{"s":"发条弹幕见证 A 股"}]},"mark":{"type":"text","fontSize":22.3,"align":"left","baseline":"middle","color":"#9c9c9c"},"encoding":{"x":{"datum":100,"scale":{"domain":[0,680]}},"y":{"datum":858,"scale":{"domain":[907,0]}},"text":{"field":"s"}}},
{"data":{"values":[{"n":"bull"}]},"mark":{"type":"rect","cornerRadiusTopLeft":24,"cornerRadiusBottomLeft":24,"cornerRadiusTopRight":3,"cornerRadiusBottomRight":3,"color":{"x1":0,"y1":0,"x2":1,"y2":0,"gradient":"linear","stops":[{"offset":0,"color":"#fdeeec"},{"offset":1,"color":"#fcdcd8"}]}},"encoding":{"x":{"datum":427,"scale":{"domain":[0,680]}},"x2":{"datum":549.5},"y":{"datum":833,"scale":{"domain":[907,0]}},"y2":{"datum":882}}},
{"data":{"values":[{"n":"bear"}]},"mark":{"type":"rect","cornerRadiusTopRight":24,"cornerRadiusBottomRight":24,"cornerRadiusTopLeft":3,"cornerRadiusBottomLeft":3,"color":{"x1":0,"y1":0,"x2":1,"y2":0,"gradient":"linear","stops":[{"offset":0,"color":"#cdf0d4"},{"offset":1,"color":"#ecfaef"}]}},"encoding":{"x":{"datum":549.5,"scale":{"domain":[0,680]}},"x2":{"datum":673},"y":{"datum":833,"scale":{"domain":[907,0]}},"y2":{"datum":882}}},
{"data":{"values":[{"n":"gap"}]},"mark":{"type":"rule","color":"#ffffff","strokeWidth":2.5},"encoding":{"x":{"datum":552,"scale":{"domain":[0,680]}},"x2":{"datum":547},"y":{"datum":832,"scale":{"domain":[907,0]}},"y2":{"datum":883}}},
{"data":{"values":[{"s":"看涨 23%"}]},"mark":{"type":"text","fontSize":21,"align":"center","baseline":"middle","color":"#cf5a55"},"encoding":{"x":{"datum":490,"scale":{"domain":[0,680]}},"y":{"datum":858,"scale":{"domain":[907,0]}},"text":{"field":"s"}}},
{"data":{"values":[{"s":"看跌 77%"}]},"mark":{"type":"text","fontSize":21,"align":"center","baseline":"middle","color":"#4d9a45"},"encoding":{"x":{"datum":610,"scale":{"domain":[0,680]}},"y":{"datum":858,"scale":{"domain":[907,0]}},"text":{"field":"s"}}}
]}
